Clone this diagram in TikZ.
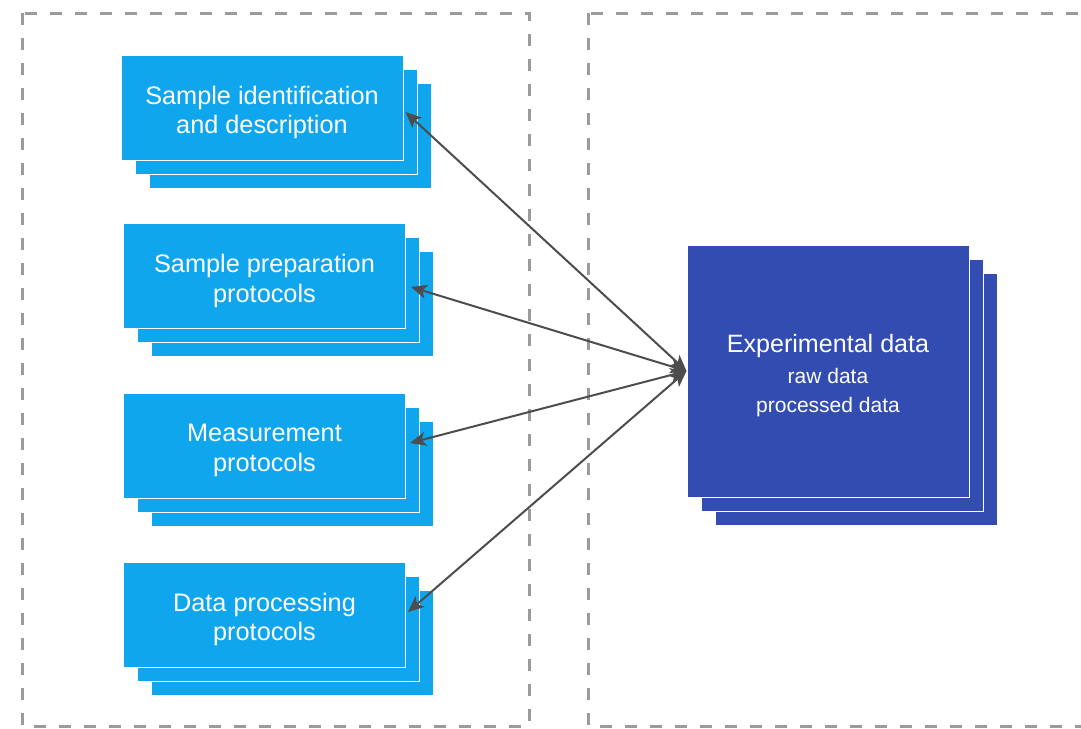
\documentclass[tikz,border=0pt]{standalone}
\usepackage{fontspec}
\setmainfont{Liberation Sans}
\usetikzlibrary{arrows.meta,calc}
\definecolor{lightblue}{RGB}{15,166,238}
\definecolor{darkblue}{RGB}{50,76,178}
\definecolor{framegray}{RGB}{155,155,155}
\definecolor{arrowgray}{RGB}{77,77,77}
\tikzset{
  frame/.style={draw=framegray,line width=3pt,dash pattern=on 12pt off 13pt},
  layer/.style={rectangle,draw=white,line width=1pt,inner sep=0pt},
  protobox/.style={layer,fill=lightblue,minimum width=282pt,minimum height=105pt},
  prototext/.style={text=white,align=center,inner sep=0pt,font=\fontsize{25.3}{29.5}\selectfont},
  databox/.style={layer,fill=darkblue,minimum width=282pt,minimum height=252pt},
  datatext/.style={text=white,align=center,inner sep=0pt,font=\fontsize{21}{29.5}\selectfont},
  link/.style={draw=arrowgray,line width=2pt,
     {Stealth[length=16pt,width=14pt,inset=4pt]}-{Stealth[length=16pt,width=14pt,inset=4pt]}}
}
\begin{document}
\begin{tikzpicture}[x=1pt,y=-1pt]
\useasboundingbox (0,0) rectangle (1081,728);
\clip (0,0) rectangle (1081,728);
\fill[white] (0,0) rectangle (1081,728);
% frames
\draw[frame] (22,13) rectangle (529,726);
\draw[frame] (588,13) rectangle (1120,726);
% protocol stacks
\foreach \n/\cx/\cy in {1/262/107.5,2/264.5/276,3/264.5/445.5,4/264.5/614.5}{
  \node[protobox] (b\n c) at (\cx+28,\cy+28) {};
  \node[protobox] (b\n b) at (\cx+14,\cy+14) {};
  \node[protobox] (b\n) at (\cx,\cy) {};
}
\node[prototext] (b1t) at ($(b1)+(0,5)$) {Sample identification\\and description};
\node[prototext] (b2t) at ($(b2)+(0,5)$) {Sample preparation\\protocols};
\node[prototext] (b3t) at ($(b3)+(0,5)$) {Measurement\\protocols};
\node[prototext] (b4t) at ($(b4)+(0,5)$) {Data processing\\protocols};
% data stack
\node[databox] (edc) at (856,399) {};
\node[databox] (edb) at (842,385) {};
\node[databox] (ed) at (828,371) {};
\node[datatext] (edt) at ($(ed)+(0,5)$) {{\fontsize{25.1}{29.5}\selectfont Experimental data}\\[1pt]
  raw data\\processed data};
% connectors
\coordinate (hub) at (ed.west);
\coordinate (e1) at ($(b1.east)+(2,4.5)$);
\coordinate (e2) at ($(b2.east)+(5,11)$);
\coordinate (e3) at ($(b3.east)+(4,-2.5)$);
\coordinate (e4) at ($(b4.east)+(2,-2.5)$);
\draw[link] (e1) -- (hub);
\draw[link] (e2) -- (hub);
\draw[link] (e3) -- (hub);
\draw[link] (e4) -- (hub);
\end{tikzpicture}
\end{document}
